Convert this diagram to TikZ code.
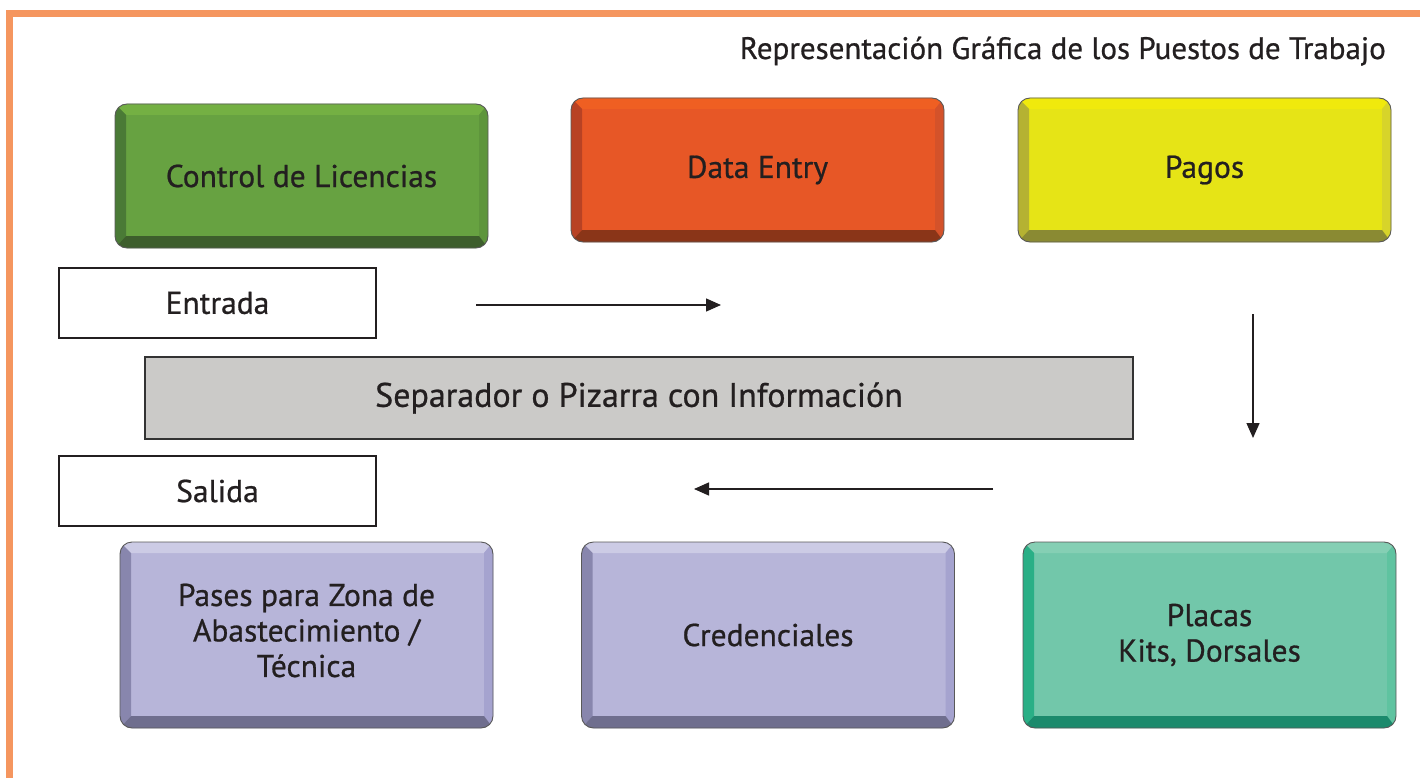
\documentclass[tikz,border=0pt]{standalone}
\usepackage{fontspec}
\setmainfont{PT Sans}[FakeBold=0.7]
\usetikzlibrary{arrows.meta,calc}
\definecolor{ink}{HTML}{231F20}
\definecolor{frame}{HTML}{F5965F}
\definecolor{sepfill}{HTML}{CBCAC8}
% green
\definecolor{GM}{HTML}{67A241}\definecolor{GT}{HTML}{74B043}\definecolor{GL}{HTML}{4A7A36}\definecolor{GB}{HTML}{3D5E2C}\definecolor{GR}{HTML}{5E953C}
% orange
\definecolor{OM}{HTML}{E75726}\definecolor{OT}{HTML}{EF5F22}\definecolor{OL}{HTML}{B84224}\definecolor{OB}{HTML}{8A3518}\definecolor{OR}{HTML}{D4522A}
% yellow
\definecolor{YM}{HTML}{E6E416}\definecolor{YT}{HTML}{F0E90C}\definecolor{YL}{HTML}{B5B232}\definecolor{YB}{HTML}{8A8A33}\definecolor{YR}{HTML}{D7D42A}
% purple
\definecolor{PM}{HTML}{B7B5D9}\definecolor{PT}{HTML}{CCCBE5}\definecolor{PL}{HTML}{8886AD}\definecolor{PB}{HTML}{6F6E8E}\definecolor{PR}{HTML}{A5A3CF}
% teal
\definecolor{TM}{HTML}{72C7AA}\definecolor{TT}{HTML}{85CFB4}\definecolor{TL}{HTML}{2AAF86}\definecolor{TB}{HTML}{1B8A6C}\definecolor{TR}{HTML}{5FC3A0}
\begin{document}
\begin{tikzpicture}[x=1pt,y=-1pt,
  bevel/.style={rounded corners=12pt, draw=black!65, line width=0.9pt, fill=#1M,
    minimum width=373pt, align=center, text=ink, font=\fontsize{31.5}{35.5}\selectfont,
    path picture={
      \coordinate (pnw) at (path picture bounding box.north west);
      \coordinate (pne) at (path picture bounding box.north east);
      \coordinate (psw) at (path picture bounding box.south west);
      \coordinate (pse) at (path picture bounding box.south east);
      \fill[#1T, sharp corners] (pnw) -- (pne) -- ($(pne)+(-9pt,-11pt)$) -- ($(pnw)+(11pt,-11pt)$) -- cycle;
      \fill[#1R, sharp corners] (pne) -- (pse) -- ($(pse)+(-9pt,12pt)$) -- ($(pne)+(-9pt,-11pt)$) -- cycle;
      \fill[#1L, sharp corners] (pnw) -- (psw) -- ($(psw)+(11pt,12pt)$) -- ($(pnw)+(11pt,-11pt)$) -- cycle;
      \fill[#1B, sharp corners] (psw) -- (pse) -- ($(pse)+(-9pt,12pt)$) -- ($(psw)+(11pt,12pt)$) -- cycle;
    }},
  topbox/.style={bevel=#1, minimum height=144pt},
  botbox/.style={bevel=#1, minimum height=186pt},
  plainbox/.style={draw=ink, line width=1.2pt, fill=white, minimum width=317pt, minimum height=70pt,
    text=ink, font=\fontsize{31.5}{36}\selectfont},
  sepbox/.style={draw=black!80, line width=1.3pt, fill=sepfill, minimum width=988pt, minimum height=82pt,
    text=ink, font=\fontsize{34}{40}\selectfont},
  flow/.style={line width=1.4pt, draw=ink, -{Triangle[length=15pt,width=13pt]}}
]
\useasboundingbox (0,0) rectangle (1420,778);
\fill[white] (0,0) rectangle (1420,778);
% frame
\draw[frame, line width=7pt] (9.5,778) -- (9.5,13.5) -- (1420,13.5);
% title
\node[anchor=base east, text=ink, font=\fontsize{31}{36}\selectfont, inner sep=0pt] (title) at (1386,59) {Representación Gráfica de los Puestos de Trabajo};
% top row
\node[topbox=G] (lic) at (301.5,176) {Control de Licencias};
\node[topbox=O] (data) at (757.5,170) {Data Entry};
\node[topbox=Y] (pagos) at (1204.5,170) {Pagos};
% entrada / salida
\node[plainbox] (entrada) at (217.5,303) {Entrada};
\node[plainbox] (salida) at (217.5,491) {Salida};
% separador
\node[sepbox] (sep) at (639,398) {Separador o Pizarra con Información};
% bottom row
\node[botbox=P] (pases) at (306.5,635) {Pases para Zona de\\Abastecimiento /\\Técnica\vspace*{9pt}};
\node[botbox=P] (cred) at (768,635) {Credenciales};
\node[botbox=T] (placas) at (1209.5,635) {Placas\\Kits, Dorsales};
% arrows
\coordinate (a1s) at (476,305); \coordinate (a1e) at (721,305);
\coordinate (a2s) at (1253,314); \coordinate (a2e) at (1253,438);
\coordinate (a3s) at (993,489); \coordinate (a3e) at (694,489);
\draw[flow] (a1s) -- (a1e);
\draw[flow] (a2s) -- (a2e);
\draw[flow] (a3s) -- (a3e);
\end{tikzpicture}
\end{document}
